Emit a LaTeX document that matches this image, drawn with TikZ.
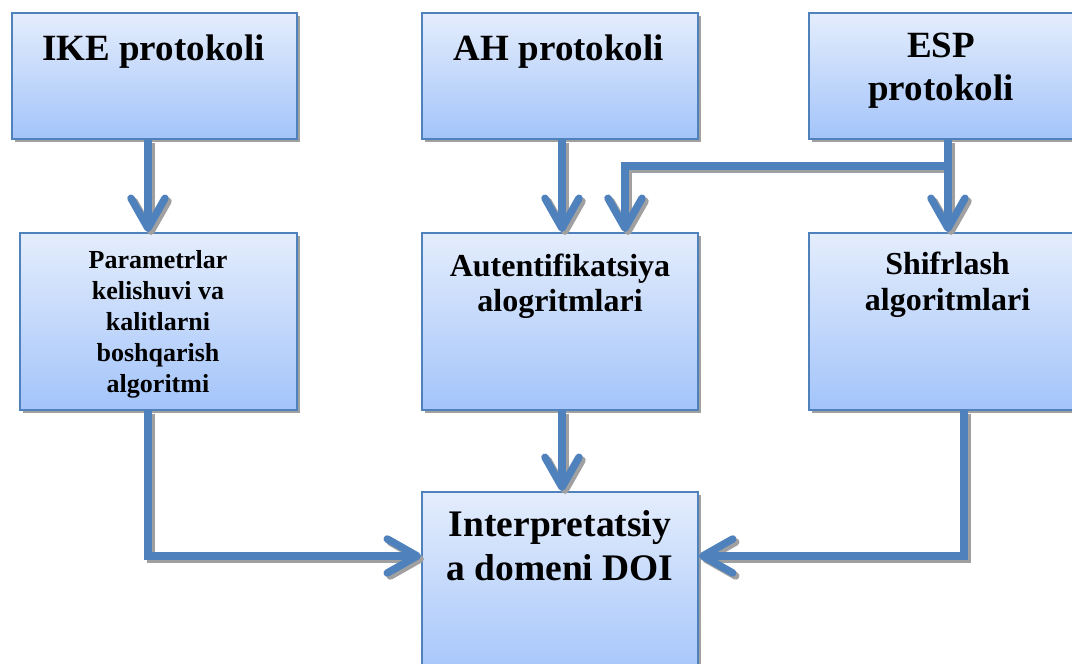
\documentclass[tikz,border=0pt]{standalone}
\usepackage{fontspec}
\setmainfont{Liberation Serif}
\usetikzlibrary{arrows.meta,shadows}
\definecolor{linkblue}{HTML}{4F81BD}
\definecolor{boxtop}{RGB}{228,237,252}
\definecolor{boxbot}{RGB}{163,196,250}
\definecolor{shadegray}{RGB}{160,160,160}

\tikzset{
  blk/.style={rectangle, draw=linkblue, line width=2pt, inner sep=0pt,
    top color=boxtop, bottom color=boxbot, anchor=north west,
    drop shadow={shadow xshift=3pt, shadow yshift=-3pt, fill=shadegray, opacity=1}},
  txt/.style={anchor=base, inner sep=0pt, font=\bfseries},
  conn/.style={line width=7.5pt,
    -{Straight Barb[length=30pt,width=34pt,round]}},
}
% a connector with its grey shadow drawn first, shifted right and down
\newcommand\linkpath[1]{%
  \begin{scope}[transform canvas={shift={(3pt,-3pt)}}]
    \draw[conn, draw=shadegray] #1;
  \end{scope}
  \draw[conn, draw=linkblue] #1;}

\begin{document}
\begin{tikzpicture}[x=1pt, y=-1pt]
  \useasboundingbox (0,0) rectangle (1072,664);
  \clip (0,0) rectangle (1072,664);

  % boxes
  \node[blk, minimum width=285pt, minimum height=126pt] (ike)  at (11,12)  {};
  \node[blk, minimum width=276pt, minimum height=126pt] (ah)   at (421,12) {};
  \node[blk, minimum width=266pt, minimum height=126pt] (esp)  at (808,12) {};
  \node[blk, minimum width=277pt, minimum height=177pt] (par)  at (19,232) {};
  \node[blk, minimum width=276pt, minimum height=177pt] (auth) at (421,232) {};
  \node[blk, minimum width=278pt, minimum height=177pt] (shf)  at (808,232) {};
  \node[blk, minimum width=276pt, minimum height=190pt] (doi)  at (421,491) {};

  % labels
  \node[txt] (ike-t) at (153.5,60)
    {\fontsize{37}{43}\selectfont IKE protokoli};
  \node[txt] (ah-t) at (559,60)
    {\fontsize{37}{43}\selectfont AH protokoli};
  \node[txt] (esp-t) at (941,57)
    {\fontsize{37}{43}\selectfont\begin{tabular}[t]{@{}c@{}}ESP\\protokoli\end{tabular}};
  \node[txt] (par-t) at (158,268)
    {\fontsize{26}{31}\selectfont\begin{tabular}[t]{@{}c@{}}Parametrlar\\kelishuvi va\\kalitlarni\\boshqarish\\algoritmi\end{tabular}};
  \node[txt] (auth-t) at (560,276)
    {\fontsize{32}{35}\selectfont\begin{tabular}[t]{@{}c@{}}Autentifikatsiya\\alogritmlari\end{tabular}};
  \node[txt] (shf-t) at (947.5,274)
    {\fontsize{32}{36}\selectfont\begin{tabular}[t]{@{}c@{}}Shifrlash\\algoritmlari\end{tabular}};
  \node[txt] (doi-t) at (560,536)
    {\fontsize{37.5}{44}\selectfont\begin{tabular}[t]{@{}c@{}}Interpretatsiy\\a domeni DOI\end{tabular}};

  % connectors
  \linkpath{([xshift=-6.5pt]ike.south) -- ([xshift=-10.5pt]par.north)}
  \linkpath{([xshift=2pt]ah.south) -- ([xshift=2pt]auth.north)}
  \linkpath{([xshift=6pt]esp.south) -- ++(0,26) -| ([xshift=65pt]auth.north)}
  \linkpath{([xshift=6pt]esp.south) -- (shf.north)}
  \linkpath{([xshift=2pt]auth.south) -- ([xshift=2pt]doi.north)}
  \linkpath{([xshift=-10.5pt]par.south) |- ([yshift=-65pt]doi.north west)}
  \linkpath{([xshift=16pt]shf.south) |- ([yshift=-65pt]doi.north east)}
\end{tikzpicture}
\end{document}
